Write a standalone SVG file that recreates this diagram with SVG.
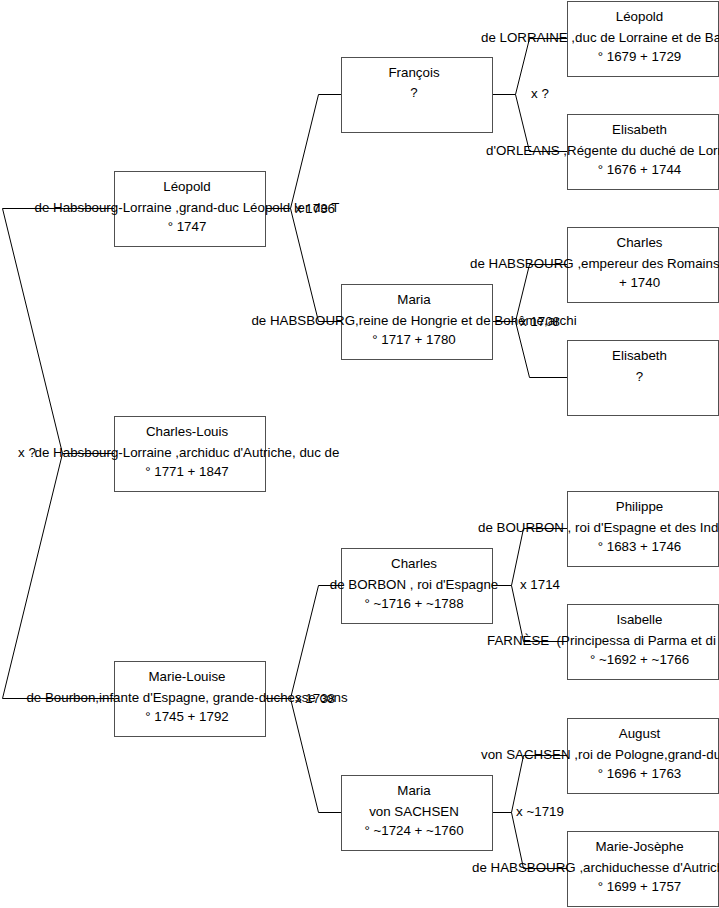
<svg xmlns="http://www.w3.org/2000/svg" width="719" height="908" viewBox="0 0 719 908">
<style>
.box{fill:#fff;stroke:#505050;stroke-width:1}
.c{fill:none;stroke:#000;stroke-width:1}
text{font-family:"Liberation Sans",Arial,sans-serif;font-size:13.33px;fill:#000}
.m{text-anchor:middle}
.s{text-anchor:start}
</style>
<rect width="719" height="908" fill="#fff"/>
<g id="connectors">
<path class="c" d="M114.5,208.5 H2.5 L62.5,453.5 L2.5,698.5 H114.5 M62.5,453.5 H114.5"/>
<path class="c" d="M265.5,208.5 H290.5 L318.5,94.5 H341.5 M290.5,208.5 L318.5,321.5 H341.5"/>
<path class="c" d="M265.5,698.5 H290.5 L318.5,585.5 H341.5 M290.5,698.5 L318.5,812.5 H341.5"/>
<path class="c" d="M492.5,94.5 H515.5 L529.5,38.5 H567.5 M515.5,94.5 L529.5,151.5 H567.5"/>
<path class="c" d="M492.5,321.5 H515.5 L529.5,264.5 H567.5 M515.5,321.5 L529.5,377.5 H567.5"/>
<path class="c" d="M492.5,585.5 H511.5 L523.5,528.5 H567.5 M511.5,585.5 L523.5,641.5 H567.5"/>
<path class="c" d="M492.5,812.5 H511.5 L523.5,755.5 H567.5 M511.5,812.5 L523.5,868.5 H567.5"/>
<text class="m" x="27" y="457">x ?</text>
<text class="m" x="315" y="212.5">x 1736</text>
<text class="m" x="315" y="702.5">x 1738</text>
<text class="m" x="540" y="98">x ?</text>
<text class="m" x="540" y="325.5">x 1708</text>
<text class="m" x="540" y="589">x 1714</text>
<text class="m" x="540" y="816">x ~1719</text>
</g>
<g id="n1-leopold">
<rect class="box" x="114.5" y="171.5" width="151" height="75"/>
<text class="m" x="187" y="190.5">Léopold</text>
<text class="m" x="187" y="211.5">de Habsbourg-Lorraine ,grand-duc Léopold Ier de T</text>
<text class="m" x="187" y="230.5">° 1747</text>
</g>
<g id="n1-charles-louis">
<rect class="box" x="114.5" y="416.5" width="151" height="75"/>
<text class="m" x="187" y="435.5">Charles-Louis</text>
<text class="m" x="187" y="456.5">de Habsbourg-Lorraine ,archiduc d'Autriche, duc de</text>
<text class="m" x="187" y="475.5">° 1771 + 1847</text>
</g>
<g id="n1-marie-louise">
<rect class="box" x="114.5" y="661.5" width="151" height="75"/>
<text class="m" x="187" y="680.5">Marie-Louise</text>
<text class="m" x="187" y="701.5">de Bourbon,infante d'Espagne, grande-duchesse cons</text>
<text class="m" x="187" y="720.5">° 1745 + 1792</text>
</g>
<g id="n2-francois">
<rect class="box" x="341.5" y="57.5" width="151" height="75"/>
<text class="m" x="414" y="77">François</text>
<text class="m" x="414" y="97">?</text>
</g>
<g id="n2-maria">
<rect class="box" x="341.5" y="284.5" width="151" height="75"/>
<text class="m" x="414" y="303.5">Maria</text>
<text class="m" x="414" y="324.5">de HABSBOURG,reine de Hongrie et de Bohême,archi</text>
<text class="m" x="414" y="343.5">° 1717 + 1780</text>
</g>
<g id="n2-charles">
<rect class="box" x="341.5" y="548.5" width="151" height="75"/>
<text class="m" x="414" y="567.5">Charles</text>
<text class="m" x="414" y="588.5">de BORBON , roi d'Espagne</text>
<text class="m" x="414" y="607.5">° ~1716 + ~1788</text>
</g>
<g id="n2-maria-sachsen">
<rect class="box" x="341.5" y="775.5" width="151" height="75"/>
<text class="m" x="414" y="794.5">Maria</text>
<text class="m" x="414" y="815.5">von SACHSEN</text>
<text class="m" x="414" y="834.5">° ~1724 + ~1760</text>
</g>
<g id="n3-leopold">
<rect class="box" x="567.5" y="1.5" width="151" height="75"/>
<text class="m" x="639.5" y="20.5">Léopold</text>
<text class="s" x="481" y="41.5">de LORRAINE ,duc de Lorraine et de Bar</text>
<text class="m" x="639.5" y="60.5">° 1679 + 1729</text>
</g>
<g id="n3-elisabeth-orleans">
<rect class="box" x="567.5" y="114.5" width="151" height="75"/>
<text class="m" x="639.5" y="133.5">Elisabeth</text>
<text class="s" x="486" y="154.5">d'ORLEANS ,Régente du duché de Lorraine</text>
<text class="m" x="639.5" y="173.5">° 1676 + 1744</text>
</g>
<g id="n3-charles">
<rect class="box" x="567.5" y="227.5" width="151" height="75"/>
<text class="m" x="639.5" y="246.5">Charles</text>
<text class="s" x="470" y="267.5">de HABSBOURG ,empereur des Romains</text>
<text class="m" x="639.5" y="286.5">+ 1740</text>
</g>
<g id="n3-elisabeth">
<rect class="box" x="567.5" y="340.5" width="151" height="75"/>
<text class="m" x="639.5" y="359.5">Elisabeth</text>
<text class="m" x="639.5" y="380.5">?</text>
</g>
<g id="n3-philippe">
<rect class="box" x="567.5" y="491.5" width="151" height="75"/>
<text class="m" x="639.5" y="510.5">Philippe</text>
<text class="s" x="478" y="531.5">de BOURBON , roi d'Espagne et des Indes</text>
<text class="m" x="639.5" y="550.5">° 1683 + 1746</text>
</g>
<g id="n3-isabelle">
<rect class="box" x="567.5" y="604.5" width="151" height="75"/>
<text class="m" x="639.5" y="623.5">Isabelle</text>
<text class="s" x="487" y="644.5" xml:space="preserve">FARNÈSE  (Principessa di Parma et di Piacenza)</text>
<text class="m" x="639.5" y="663.5">° ~1692 + ~1766</text>
</g>
<g id="n3-august">
<rect class="box" x="567.5" y="718.5" width="151" height="75"/>
<text class="m" x="639.5" y="737.5">August</text>
<text class="s" x="481" y="758.5">von SACHSEN ,roi de Pologne,grand-duc de Lituanie</text>
<text class="m" x="639.5" y="777.5">° 1696 + 1763</text>
</g>
<g id="n3-marie-josephe">
<rect class="box" x="567.5" y="831.5" width="151" height="75"/>
<text class="m" x="639.5" y="850.5">Marie-Josèphe</text>
<text class="s" x="472" y="871.5">de HABSBOURG ,archiduchesse d'Autriche</text>
<text class="m" x="639.5" y="890.5">° 1699 + 1757</text>
</g>
</svg>
